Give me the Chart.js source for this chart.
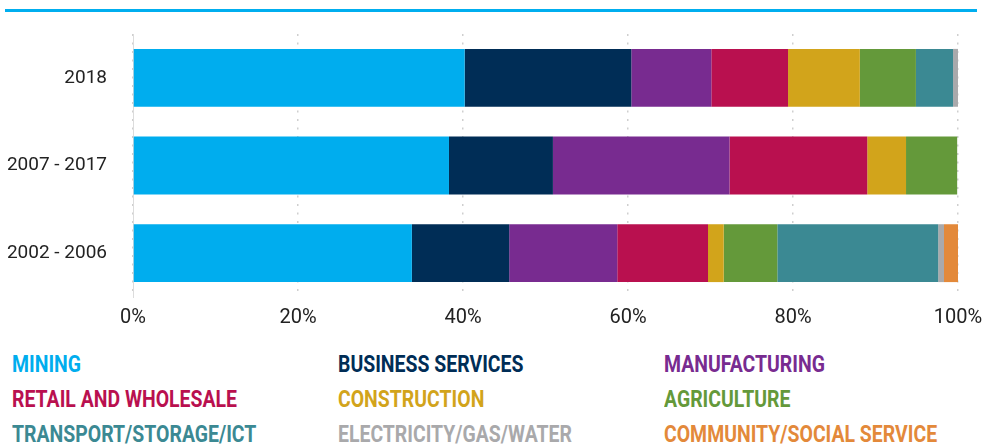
<!DOCTYPE html>
<html>
<head>
<meta charset="utf-8">
<script src="https://cdn.jsdelivr.net/npm/chart.js@4/dist/chart.umd.min.js"></script>
<style>
  html, body { margin: 0; padding: 0; background: #fff; }
  #wrap { position: relative; width: 982px; height: 445px; overflow: hidden; }
  #topline { position: absolute; left: 5px; top: 9px; width: 972px; height: 3px; background: #00AEEF; }
  #chartBox { position: absolute; left: 0; top: 0; width: 982px; height: 337px; }
  #legend { position: absolute; left: 0; top: 352px; width: 982px; }
  .item { position: absolute; font-family: Roboto, "Noto Sans", sans-serif; font-weight: 700; font-size: 23px;
          line-height: 26px; white-space: nowrap; transform: scaleX(0.845); transform-origin: left center; }
</style>
</head>
<body>
<div id="wrap">
  <div id="topline"></div>
  <div id="chartBox"><canvas id="sectorChart"></canvas></div>
  <div id="legend"></div>
</div>
<script>
// 기간별 업종 비중 (%)
var categories = ['2018', '2007 - 2017', '2002 - 2006'];
var mining = [40.2, 38.3, 33.8];
var business = [20.2, 12.6, 11.8];
var manufacturing = [9.7, 21.4, 13.1];
var retail = [9.3, 16.7, 11.0];
var construction = [8.7, 4.7, 1.9];
var agriculture = [6.8, 6.2, 6.5];
var transport = [4.5, 0, 19.5];
var electricity = [0.6, 0, 0.7];
var community = [0, 0, 1.7];
var xTicks = [0, 20, 40, 60, 80, 100];

var series = [
    { label: 'MINING', data: mining, color: '#00ADEE' },
    { label: 'BUSINESS SERVICES', data: business, color: '#002D56' },
    { label: 'MANUFACTURING', data: manufacturing, color: '#782B90' },
    { label: 'RETAIL AND WHOLESALE', data: retail, color: '#B9104F' },
    { label: 'CONSTRUCTION', data: construction, color: '#D2A41B' },
    { label: 'AGRICULTURE', data: agriculture, color: '#64993A' },
    { label: 'TRANSPORT/STORAGE/ICT', data: transport, color: '#3B8993' },
    { label: 'ELECTRICITY/GAS/WATER', data: electricity, color: '#A9A9AB' },
    { label: 'COMMUNITY/SOCIAL SERVICE', data: community, color: '#E3893A' }
];

var ctx = document.getElementById('sectorChart').getContext('2d');
var chart = new Chart(ctx, {
    type: 'bar',
    data: {
        labels: categories,
        datasets: series.map(function (s) {
            return {
                label: s.label,
                data: s.data,
                backgroundColor: s.color,
                borderWidth: 0,
                categoryPercentage: 1,
                barPercentage: 0.66
            };
        })
    },
    options: {
        indexAxis: 'y', // 수평그래프
        responsive: true,
        maintainAspectRatio: false,
        animation: false,
        layout: { padding: { top: 34, right: 24, left: 0, bottom: 0 } },
        plugins: {
            legend: { display: false },
            tooltip: { enabled: false }
        },
        scales: {
            x: {
                stacked: true,
                min: 0,
                max: 100,
                afterBuildTicks: function (axis) {
                    axis.ticks = xTicks.map(function (v) { return { value: v }; });
                },
                afterFit: function (axis) {
                    axis.height = 40;
                    axis.paddingLeft = 0;
                    axis.paddingRight = 0;
                },
                grid: {
                    color: '#cfcfcf',
                    lineWidth: 1.5,
                    drawTicks: false
                },
                border: { display: false, dash: [2, 6.5] },
                ticks: {
                    color: '#222',
                    font: { family: 'Roboto', size: 20 },
                    padding: 9,
                    maxRotation: 0,
                    callback: function (v) { return v + '%'; }
                }
            },
            y: {
                stacked: true,
                afterFit: function (axis) {
                    axis.width = 133;
                    axis.paddingTop = 0;
                    axis.paddingBottom = 0;
                },
                grid: { display: false, drawTicks: false },
                border: { display: true, color: '#dcdcdc', width: 1 },
                ticks: {
                    color: '#222',
                    font: { family: 'Roboto', size: 19 },
                    padding: 26
                }
            }
        }
    }
});

// 범례 (3열)
var legend = document.getElementById('legend');
series.forEach(function (s, i) {
    var el = document.createElement('div');
    el.className = 'item';
    el.textContent = s.label;
    el.style.color = s.color;
    el.style.left = [12, 338, 664][i % 3] + 'px';
    el.style.top = (Math.floor(i / 3) * 35) + 'px';
    legend.appendChild(el);
});
</script>
</body>
</html>
